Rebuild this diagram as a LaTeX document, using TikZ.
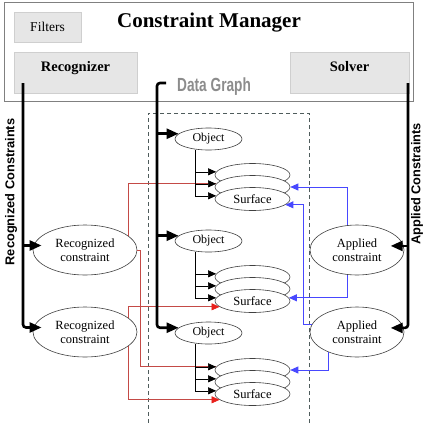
\documentclass[tikz,border=0pt]{standalone}
\usepackage{fontspec}
\setmainfont{Liberation Serif}
\setsansfont{Liberation Sans}
\usepackage{graphicx}
\usetikzlibrary{shapes.geometric,arrows.meta,calc}
\definecolor{cmframe}{HTML}{808080}
\definecolor{cmfill}{HTML}{E6E6E6}
\definecolor{cmline}{HTML}{CFCFCF}
\definecolor{dgtext}{HTML}{8C8C8C}
\definecolor{dgdash}{HTML}{4F5C5C}
\definecolor{redline}{HTML}{C44A46}
\definecolor{redtip}{HTML}{E8201C}
\definecolor{blueline}{HTML}{4848FF}
\begin{document}
\begin{tikzpicture}[x=1pt, y=-1pt,
  greybox/.style={draw=cmline, fill=cmfill, line width=0.8pt, inner sep=0pt, font=\fontsize{14.5}{16}\selectfont\bfseries},
  obj/.style={ellipse, draw=black!75, fill=white, line width=0.6pt, minimum width=67pt, minimum height=22pt, inner sep=0pt, font=\fontsize{12}{14}\selectfont},
  surf/.style={obj, minimum width=75pt, minimum height=23pt, font=\fontsize{12.5}{14}\selectfont},
  cons/.style={obj, minimum height=50pt, align=center, font=\fontsize{12.5}{14}\selectfont},
  side/.style={font=\sffamily\bfseries\fontsize{12.8}{14}\selectfont, rotate=90},
  bigarr/.style={-{Triangle[length=12pt,width=10pt]}, line width=2.6pt},
  smallarr/.style={-{Triangle[length=8pt,width=7pt]}, line width=0.6pt},
  redln/.style={redline, line width=0.7pt},
  redarr/.style={redln, -{Triangle[length=8pt,width=7pt,color=redtip]}},
  bluarr/.style={-{Triangle[length=8pt,width=7pt]}, color=blueline, line width=0.9pt}]
 \useasboundingbox (0,0) rectangle (424,426);
 % constraint manager
 \node[draw=cmframe, line width=1pt, minimum width=409pt, minimum height=99pt, inner sep=0pt] (cm) at (208.5,51.5) {};
 \node[greybox, minimum width=67pt, minimum height=30pt, font=\fontsize{13.5}{15}\selectfont] (filt) at (47.5,27) {Filters};
 \node[anchor=base, font=\fontsize{21}{24}\selectfont\bfseries] (title) at (209,27.5) {Constraint Manager};
 \node[greybox, minimum width=123pt, minimum height=41pt, text depth=12pt] (rec) at (75.5,72.5) {Recognizer};
 \node[greybox, minimum width=119pt, minimum height=41pt, text depth=12pt] (sol) at (349.5,72.5) {Solver};
 \node[anchor=base west, inner sep=0pt, text=dgtext, font=\sffamily\bfseries\fontsize{19}{20}\selectfont] (dgname) at (177,91) {\scalebox{0.72}[1]{Data Graph}};
 \node[side] (reclab) at (11,192) {Recognized Constraints};
 \node[side] (applab) at (417,184) {Applied Constraints};
 % data graph
 \node[draw=dgdash, dash pattern=on 4pt off 3pt, line width=0.7pt, minimum width=161pt, minimum height=317pt, inner sep=0pt] (dg) at (228.5,271.5) {};
 \node[obj] (o1) at (208.5,139) {Object};
 \node[obj] (o2) at (208.5,241) {Object};
 \node[obj] (o3) at (208.5,333) {Object};
 \foreach \k/\yy in {1/175,2/277,3/370} {
   \node[surf] (sa\k) at (252.5,\yy) {};
   \node[surf] (sb\k) at (252.5,\yy+12) {};
   \node[surf] (sc\k) at (252.5,\yy+24) {Surface};
 }
 \node[cons, minimum width=104pt] (rc1) at (85,250) {Recognized\\constraint};
 \node[cons, minimum width=104pt] (rc2) at (85,332) {Recognized\\constraint};
 \node[cons, minimum width=94pt] (ac1) at (357,250) {Applied\\constraint};
 \node[cons, minimum width=94pt] (ac2) at (357,332) {Applied\\constraint};
 % recognized -> surfaces
 \draw[redln] (rc1.18) |- (sb1.175);
 \draw[redln] (rc1.east) -- ++(3,0) |- (sa3.175);
 \draw[redarr] (rc2.18) |- (sc2.190);
 \draw[redarr] (rc2.342) |- (sc3.190);
 % applied -> surfaces
 \draw[bluarr] (ac1.112) |- (sb1.east);
 \draw[bluarr] (ac2.170) -- ++(-9,0) |- (sc1.350);
 \draw[bluarr] (ac1.248) |- (sc2.5);
 \draw[bluarr] (ac2.215) |- (sa3.east);
 % objects -> surfaces
 \foreach \k in {1,2,3} {
   \coordinate (t\k) at ($(o\k.south)+(-13,0)$);
   \foreach \s in {sa,sb,sc} \draw[smallarr] (t\k) |- (\s\k.175);
 }
 % main flows
 \coordinate (recout) at (23,83);
 \coordinate (dgout) at (157,83);
 \coordinate (dgtick) at (166,83);
 \coordinate (solout) at (408,83);
 \draw[bigarr, rounded corners=3pt, shorten >=-8pt] (recout) |- (rc2.175);
 \draw[bigarr, shorten >=-8pt] (recout |- rc1.175) -- (rc1.175);
 \draw[bigarr, rounded corners=3pt] (dgtick) -- (dgout) |- (o3.170);
 \foreach \o in {o1,o2} \draw[bigarr] (dgout |- \o.170) -- (\o.170);
 \draw[bigarr, rounded corners=3pt, shorten >=-13pt] (solout) |- (ac2.5);
 \draw[bigarr, shorten >=-13pt] (solout |- ac1.5) -- (ac1.5);
\end{tikzpicture}
\end{document}
